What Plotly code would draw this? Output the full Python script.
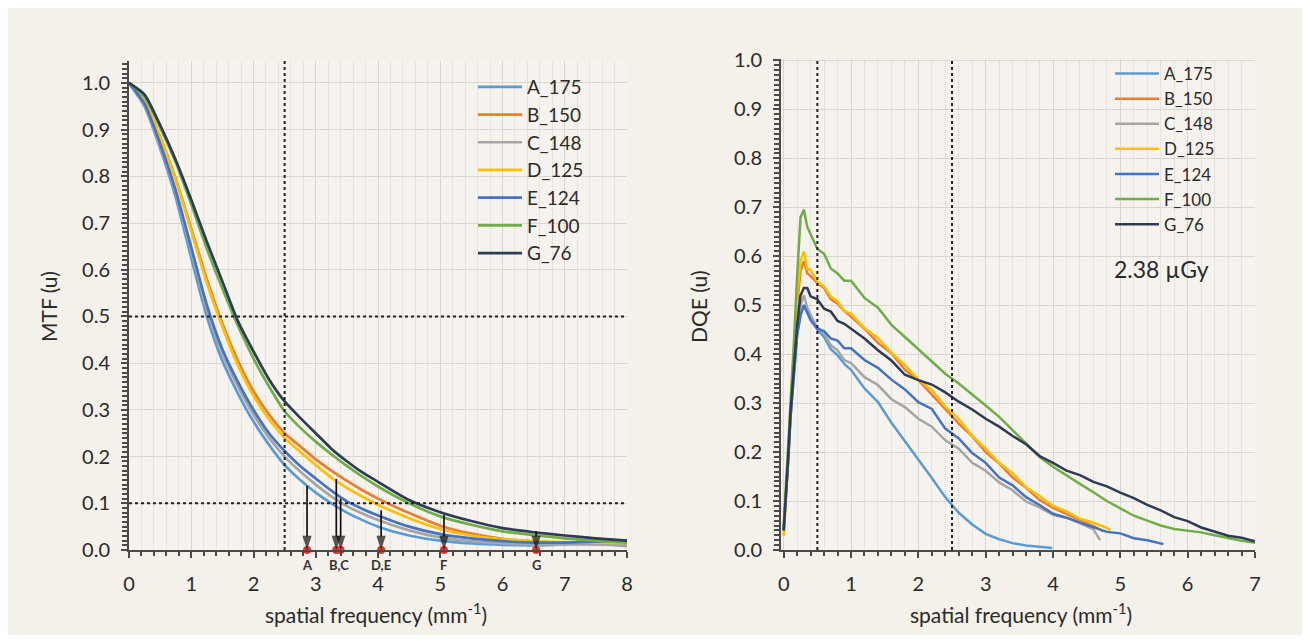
import plotly.graph_objects as go

# ---------------- data ----------------
series_names = ["A_175", "B_150", "C_148", "D_125", "E_124", "F_100", "G_76"]
series_colors = ["#5b9bd5", "#ed7d31", "#a5a5a5", "#ffc000", "#4472c4", "#70ad47", "#2e3b55"]

# MTF panel
mtf_freq = [0, 0.25, 0.5, 0.75, 1.0, 1.25, 1.5, 1.75, 2.0, 2.25, 2.5, 2.75, 3.0, 3.25, 3.5, 3.75,
            4.0, 4.5, 5.0, 5.5, 6.0, 6.5, 7.0, 7.5, 8.0]
mtf_A = [1.0, 0.95, 0.86, 0.755, 0.625, 0.50, 0.405, 0.335, 0.275, 0.225, 0.182, 0.15, 0.123, 0.10, 0.08, 0.064,
         0.05, 0.031, 0.02, 0.014, 0.011, 0.010, 0.012, 0.015, 0.008]
mtf_B = [1.0, 0.96, 0.885, 0.795, 0.688, 0.58, 0.485, 0.405, 0.34, 0.29, 0.25, 0.222, 0.194, 0.17, 0.148, 0.128,
         0.11, 0.079, 0.052, 0.035, 0.024, 0.018, 0.014, 0.012, 0.011]
mtf_C = [1.0, 0.95, 0.865, 0.765, 0.64, 0.515, 0.42, 0.35, 0.29, 0.24, 0.20, 0.168, 0.14, 0.115, 0.094, 0.078,
         0.064, 0.042, 0.027, 0.019, 0.014, 0.012, 0.012, 0.012, 0.010]
mtf_D = [1.0, 0.96, 0.883, 0.792, 0.683, 0.572, 0.478, 0.395, 0.33, 0.28, 0.24, 0.21, 0.182, 0.155, 0.133, 0.114,
         0.097, 0.068, 0.045, 0.031, 0.023, 0.019, 0.017, 0.016, 0.015]
mtf_E = [1.0, 0.955, 0.87, 0.77, 0.648, 0.525, 0.43, 0.36, 0.30, 0.25, 0.212, 0.18, 0.153, 0.127, 0.104, 0.088,
         0.074, 0.05, 0.034, 0.025, 0.019, 0.016, 0.016, 0.018, 0.020]
mtf_F = [1.0, 0.97, 0.905, 0.83, 0.74, 0.645, 0.56, 0.48, 0.41, 0.35, 0.297, 0.262, 0.232, 0.205, 0.18, 0.157,
         0.136, 0.10, 0.072, 0.054, 0.040, 0.032, 0.025, 0.020, 0.016]
mtf_G = [1.0, 0.975, 0.91, 0.835, 0.75, 0.66, 0.575, 0.49, 0.425, 0.365, 0.318, 0.283, 0.25, 0.217, 0.19, 0.166,
         0.146, 0.107, 0.081, 0.062, 0.047, 0.038, 0.031, 0.025, 0.020]
mtf_values = [mtf_A, mtf_B, mtf_C, mtf_D, mtf_E, mtf_F, mtf_G]

# reference lines and arrows (MTF)
mtf_ref_freq = [2.5]
mtf_ref_level = [0.5, 0.1]
arrow_freq = [2.86, 3.33, 3.40, 4.05, 5.06, 6.54]
arrow_top = [0.137, 0.152, 0.110, 0.085, 0.075, 0.040]
label_freq = [2.86, 3.37, 4.05, 5.06, 6.54]
label_text = ["A", "B,C", "D,E", "F", "G"]

# DQE panel
dqe_freq = [0.0, 0.03, 0.07, 0.1, 0.15, 0.2, 0.25, 0.3, 0.35, 0.4, 0.5, 0.6, 0.7, 0.8, 0.9, 1.0,
            1.2, 1.4, 1.6, 1.8, 2.0, 2.2, 2.4, 2.6, 2.8, 3.0, 3.2, 3.4, 3.6, 3.8, 4.0,
            4.2, 4.4, 4.6, 4.8, 5.0, 5.2, 5.4, 5.6, 5.8, 6.0, 6.2, 6.4, 6.6, 6.8]
dqe_A = [0.04, 0.10, 0.19, 0.27, 0.36, 0.44, 0.48, 0.50, 0.485, 0.47, 0.45, 0.435, 0.41, 0.398, 0.38, 0.368,
         0.33, 0.302, 0.26, 0.223, 0.185, 0.147, 0.108, 0.076, 0.052, 0.033, 0.022, 0.014, 0.009, 0.006]
dqe_B = [0.03, 0.10, 0.20, 0.28, 0.40, 0.50, 0.57, 0.59, 0.565, 0.56, 0.545, 0.535, 0.512, 0.503, 0.488, 0.477,
         0.452, 0.423, 0.402, 0.368, 0.347, 0.318, 0.288, 0.258, 0.232, 0.20, 0.177, 0.148, 0.127, 0.102, 0.086,
         0.073, 0.061, 0.049]
dqe_C = [0.04, 0.10, 0.19, 0.27, 0.37, 0.45, 0.50, 0.52, 0.495, 0.48, 0.455, 0.442, 0.418, 0.408, 0.388, 0.382,
         0.353, 0.337, 0.308, 0.292, 0.268, 0.252, 0.224, 0.207, 0.178, 0.162, 0.138, 0.122, 0.099, 0.087, 0.072,
         0.066, 0.055, 0.042]
dqe_D = [0.03, 0.10, 0.20, 0.29, 0.41, 0.52, 0.59, 0.61, 0.575, 0.572, 0.548, 0.538, 0.518, 0.508, 0.488, 0.483,
         0.453, 0.433, 0.403, 0.378, 0.348, 0.327, 0.293, 0.268, 0.233, 0.207, 0.178, 0.157, 0.128, 0.11, 0.09,
         0.079, 0.064, 0.056, 0.045]
dqe_E = [0.04, 0.10, 0.19, 0.27, 0.36, 0.44, 0.48, 0.50, 0.485, 0.47, 0.452, 0.447, 0.432, 0.428, 0.412, 0.412,
         0.388, 0.372, 0.348, 0.328, 0.302, 0.288, 0.248, 0.228, 0.198, 0.178, 0.148, 0.132, 0.108, 0.092, 0.074,
         0.066, 0.056, 0.046, 0.037, 0.034, 0.024, 0.02]
dqe_F = [0.05, 0.12, 0.22, 0.30, 0.42, 0.56, 0.68, 0.695, 0.66, 0.645, 0.615, 0.605, 0.575, 0.565, 0.55, 0.55,
         0.515, 0.495, 0.46, 0.435, 0.41, 0.383, 0.36, 0.34, 0.318, 0.295, 0.272, 0.245, 0.217, 0.19, 0.17,
         0.152, 0.135, 0.118, 0.10, 0.085, 0.07, 0.06, 0.05, 0.043, 0.04, 0.036, 0.03, 0.024, 0.019]
dqe_G = [0.04, 0.10, 0.20, 0.28, 0.38, 0.46, 0.52, 0.535, 0.535, 0.518, 0.512, 0.493, 0.487, 0.468, 0.462, 0.452,
         0.432, 0.408, 0.387, 0.358, 0.347, 0.338, 0.322, 0.303, 0.287, 0.268, 0.252, 0.233, 0.216, 0.192, 0.178,
         0.162, 0.153, 0.139, 0.13, 0.117, 0.106, 0.092, 0.081, 0.067, 0.059, 0.046, 0.037, 0.029, 0.025]
dqe_values = [dqe_A, dqe_B, dqe_C, dqe_D, dqe_E, dqe_F, dqe_G]
dqe_end_freq = [3.99, 4.75, 4.70, 4.85, 5.64, 7.0, 7.0]
dqe_end_value = [0.004, 0.038, 0.02, 0.04, 0.012, 0.015, 0.018]
dqe_ref_freq = [0.5, 2.5]
dose_label = "2.38 µGy"

# ---------------- figure ----------------
# the page body keeps its default 8 px margin, so the figure fills the rest of the window
OFF = 8
W, H = 1310 - 2 * OFF, 643 - 2 * OFF
FONT = "Lato"
TXT = "#2a2a2a"
BG = "#f4f0ea"
PLOTBG = "#f6f3ee"
AX = "#4a4a4a"


def px_x(p):
    return (p - OFF) / W


def px_y(p):
    return 1 - (p - OFF) / H


fig = go.Figure()

for name, color, vals in zip(series_names, series_colors, mtf_values):
    fig.add_trace(go.Scatter(x=mtf_freq, y=vals, name=name, mode="lines",
                             line=dict(color=color, width=2.7, shape="spline", smoothing=0.6),
                             xaxis="x", yaxis="y", legend="legend"))

for name, color, vals, ef, ev in zip(series_names, series_colors, dqe_values, dqe_end_freq, dqe_end_value):
    xs = dqe_freq[:len(vals)] + [ef]
    ys = vals + [ev]
    fig.add_trace(go.Scatter(x=xs, y=ys, name=name, mode="lines", line=dict(color=color, width=2.5),
                             xaxis="x2", yaxis="y2", legend="legend2"))

# red markers on the MTF axis
fig.add_trace(go.Scatter(x=arrow_freq, y=[0] * len(arrow_freq), mode="markers", showlegend=False,
                         hoverinfo="skip", marker=dict(color="#e8302a", size=8), cliponaxis=False,
                         xaxis="x", yaxis="y"))
# arrows pointing down to the MTF axis
for f, top in zip(arrow_freq, arrow_top):
    fig.add_trace(go.Scatter(x=[f, f], y=[top, 0], mode="lines+markers", showlegend=False, hoverinfo="skip",
                             line=dict(color="#111", width=1.7),
                             marker=dict(symbol="arrow", angleref="previous", size=[0, 15], color="#111",
                                         line=dict(width=0)),
                             cliponaxis=False, xaxis="x", yaxis="y"))

axis_common = dict(showline=True, linecolor=AX, linewidth=2, ticks="outside", tickcolor=AX,
                   ticklen=6, tickwidth=1.5, gridcolor="#d9d6d0", gridwidth=1, zeroline=False,
                   automargin=False, tickfont=dict(family=FONT, size=20, color=TXT))

fig.update_layout(
    width=W, height=H,
    margin=dict(l=0, r=0, t=0, b=0, pad=0, autoexpand=False),
    paper_bgcolor=BG,
    plot_bgcolor=PLOTBG,
    xaxis=dict(domain=[px_x(129), px_x(627)], range=[0, 8], dtick=1, anchor="y",
               minor=dict(dtick=0.2, ticks="outside", ticklen=4, tickcolor=AX, showgrid=True, gridcolor="#e7e4de"),
               ticklabelstandoff=9, **axis_common),
    yaxis=dict(domain=[px_y(550), px_y(61)], range=[0, 1.047], dtick=0.1, tickformat=".1f", anchor="x",
               minor=dict(dtick=0.01, ticks="outside", ticklen=5, tickcolor=AX, showgrid=False),
               ticklabelstandoff=7, **axis_common),
    xaxis2=dict(domain=[px_x(781), px_x(1255)], range=[-0.04, 7], dtick=1, anchor="y2",
                minor=dict(dtick=0.2, ticks="outside", ticklen=4, tickcolor=AX, showgrid=True, gridcolor="#e7e4de"),
                ticklabelstandoff=9, **axis_common),
    yaxis2=dict(domain=[px_y(550), px_y(59)], range=[0, 1.003], dtick=0.1, tickformat=".1f", anchor="x2",
                minor=dict(dtick=0.01, ticks="outside", ticklen=5, tickcolor=AX, showgrid=False),
                ticklabelstandoff=7, **axis_common),
    legend=dict(x=px_x(473), y=px_y(68), xanchor="left", yanchor="top", bgcolor="rgba(0,0,0,0)",
                font=dict(family=FONT, size=19, color=TXT), itemwidth=44, tracegroupgap=0),
    legend2=dict(x=px_x(1110), y=px_y(56), xanchor="left", yanchor="top", bgcolor="rgba(0,0,0,0)",
                 font=dict(family=FONT, size=17, color=TXT), itemwidth=44, tracegroupgap=0),
    showlegend=True,
)

# dotted reference lines
dot = dict(color="#222", width=2, dash="dot")
for f in mtf_ref_freq:
    fig.add_vline(x=f, line=dot, xref="x", yref="y")
for lv in mtf_ref_level:
    fig.add_hline(y=lv, line=dot, xref="x", yref="y")
for f in dqe_ref_freq:
    fig.add_shape(type="line", x0=f, x1=f, y0=0, y1=1, xref="x2", yref="y2 domain", line=dot)

for f, t in zip(label_freq, label_text):
    fig.add_annotation(x=f, y=0, xref="x", yref="y", text="<b>%s</b>" % t, showarrow=False, yanchor="top",
                       xanchor="center", yshift=-5, font=dict(family=FONT, size=13, color="#333"))

# axis titles
title_font = dict(family=FONT, size=21, color=TXT)
fig.add_annotation(x=px_x(48), y=px_y(307), xref="paper", yref="paper", text="MTF (u)", textangle=-90,
                   xanchor="center", yanchor="middle", showarrow=False, font=title_font)
fig.add_annotation(x=px_x(698), y=px_y(307), xref="paper", yref="paper", text="DQE (u)", textangle=-90,
                   xanchor="center", yanchor="middle", showarrow=False, font=title_font)
fig.add_annotation(x=px_x(376), y=px_y(613), xref="paper", yref="paper", text="spatial frequency (mm<sup>-1</sup>)",
                   xanchor="center", yanchor="middle", showarrow=False, font=title_font)
fig.add_annotation(x=px_x(1021), y=px_y(613), xref="paper", yref="paper", text="spatial frequency (mm<sup>-1</sup>)",
                   xanchor="center", yanchor="middle", showarrow=False, font=title_font)
fig.add_annotation(x=px_x(1112), y=px_y(269), xref="paper", yref="paper", text=dose_label, xanchor="left",
                   yanchor="middle", showarrow=False, font=dict(family=FONT, size=23, color=TXT))

fig.write_html("out.html")
